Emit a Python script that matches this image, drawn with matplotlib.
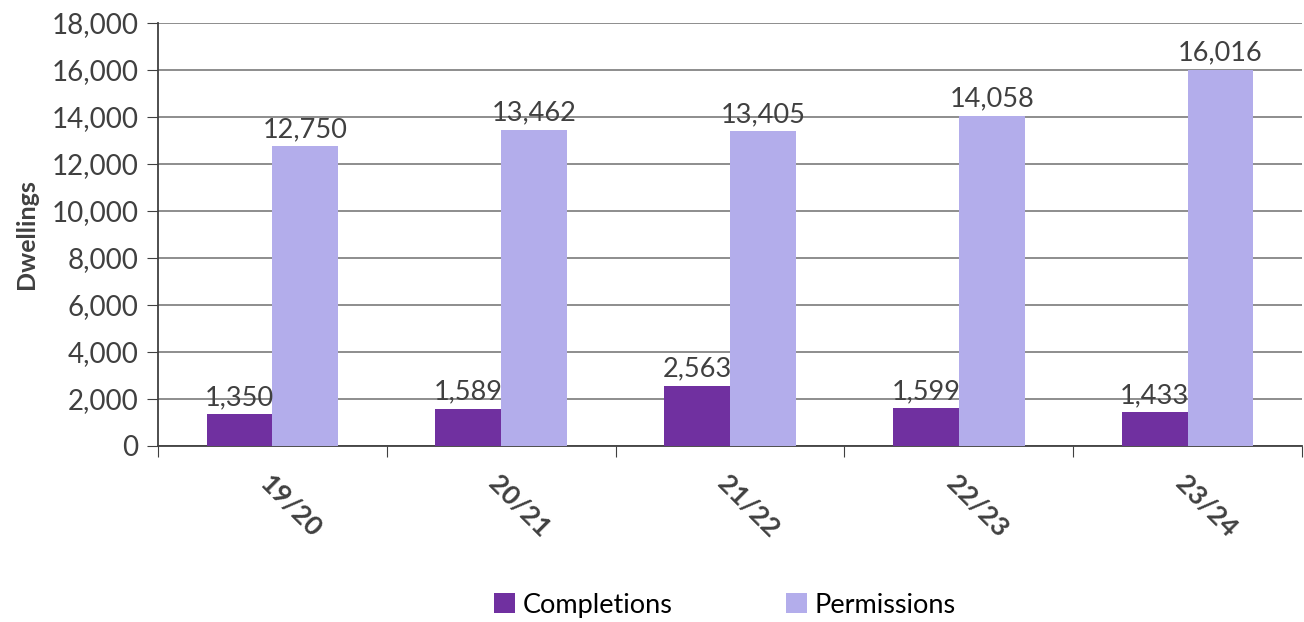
import matplotlib.pyplot as plt
import numpy as np

# values
years = ['19/20', '20/21', '21/22', '22/23', '23/24']
completions = [1350, 1589, 2563, 1599, 1433]
permissions = [12750, 13462, 13405, 14058, 16016]

plt.rcParams['font.family'] = ['Lato', 'DejaVu Sans']

fig = plt.figure(figsize=(13.04, 6.22), dpi=100)
ax = fig.add_axes([158 / 1304, 1 - 446 / 622, 1144 / 1304, 423 / 622])

x = np.arange(len(years))
w = 0.288
b1 = ax.bar(x - w / 2, completions, w, color='#7030A0', label='Completions', zorder=3)
b2 = ax.bar(x + w / 2, permissions, w, color='#B3ADEB', label='Permissions', zorder=3)

for bars in (b1, b2):
    ax.bar_label(bars, labels=[f'{v:,}' for v in bars.datavalues], padding=3,
                 fontsize=19.5, color='#404040')

ax.set_xlim(-0.5, len(years) - 0.5)
ax.set_ylim(0, 18000)
ax.set_yticks(np.arange(0, 18001, 2000))
ax.set_yticklabels([f'{v:,}' for v in range(0, 18001, 2000)], fontsize=20, color='#404040')
ax.yaxis.grid(True, color='#858585', linewidth=1.3, zorder=0)

# category ticks at the boundaries, labels centred
ax.set_xticks(np.arange(-0.5, len(years)), minor=False)
ax.set_xticklabels([])
ax.set_xticks(x, minor=True)
ax.set_xticklabels(years, minor=True, rotation=-45, ha='left', va='top',
                   rotation_mode='anchor', fontsize=19.5, fontweight='bold', color='#404040')
ax.tick_params(axis='x', which='minor', length=0, pad=18)
ax.tick_params(axis='x', which='major', length=8, direction='out', color='#404040')
ax.tick_params(axis='y', length=8, direction='out', color='#404040', pad=6)

ax.set_ylabel('Dwellings', fontsize=18, fontweight='bold', color='#404040', labelpad=10)

for s in ['top', 'right']:
    ax.spines[s].set_visible(False)
ax.spines['left'].set_color('#404040')
ax.spines['bottom'].set_color('#404040')
ax.spines['left'].set_linewidth(1.3)
ax.spines['bottom'].set_linewidth(1.3)

fig.legend(handles=[b1, b2], loc='center', bbox_to_anchor=(0.556, 0.027), ncol=2,
           frameon=False, fontsize=19.5, handlelength=0.75, handleheight=0.75,
           columnspacing=4.2, handletextpad=0.3)

fig.savefig('out.png', dpi=100)
